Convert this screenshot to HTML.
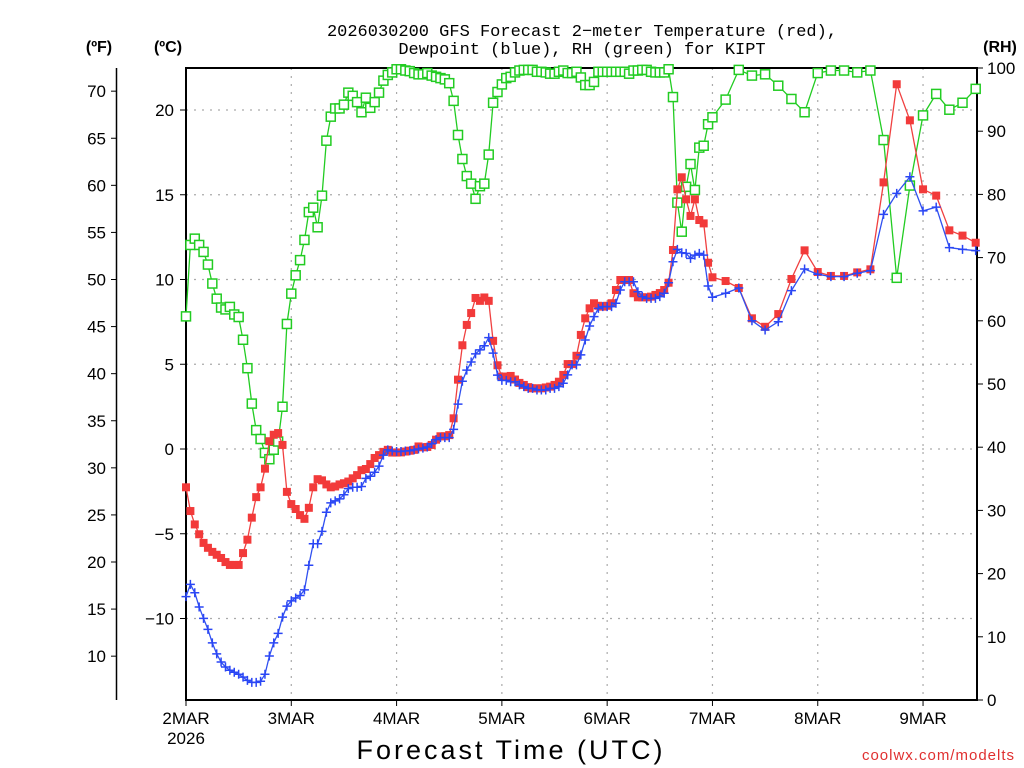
<!DOCTYPE html>
<html><head><meta charset="utf-8">
<style>
html,body{margin:0;padding:0;background:#fff;}
svg{display:block;font-family:"Liberation Sans","DejaVu Sans",sans-serif;}
</style></head>
<body>
<svg id="chart" width="1024" height="768" viewBox="0 0 1024 768" xmlns="http://www.w3.org/2000/svg">
<rect width="1024" height="768" fill="#fff"/>
<text x="582" y="36" font-size="17" font-family="Liberation Mono, monospace" text-anchor="middle">2026030200 GFS Forecast 2−meter Temperature (red),</text>
<text x="582" y="54" font-size="17" font-family="Liberation Mono, monospace" text-anchor="middle">Dewpoint (blue), RH (green) for KIPT</text>
<text x="99" y="52" font-size="16" font-weight="bold" text-anchor="middle">(ºF)</text>
<text x="168" y="52" font-size="16" font-weight="bold" text-anchor="middle">(ºC)</text>
<text x="1000" y="52" font-size="16" font-weight="bold" text-anchor="middle">(RH)</text>
<text x="511" y="759" font-size="27" text-anchor="middle" letter-spacing="3">Forecast Time (UTC)</text>
<text x="1015" y="760" font-size="15" fill="#e03030" text-anchor="end" letter-spacing="1">coolwx.com/modelts</text>
<g id="grid"></g><g id="axes"></g><g id="series"></g>
</svg>
<script>
// hours of forecast
const hours = [];
for (let h = 0; h <= 120; h++) hours.push(h);
for (let h = 123; h <= 180; h += 3) hours.push(h);
const tempC = [-2.26,-3.66,-4.45,-5.03,-5.54,-5.83,-6.07,-6.24,-6.43,-6.67,-6.84,-6.84,-6.84,-6.14,-5.35,-4.05,-2.84,-2.26,-1.16,0.46,0.84,0.94,0.24,-2.53,-3.25,-3.54,-3.9,-4.12,-3.47,-2.26,-1.78,-1.85,-2.09,-2.26,-2.21,-2.09,-2.02,-1.92,-1.73,-1.54,-1.25,-1.18,-0.89,-0.53,-0.36,-0.17,-0.05,-0.21,-0.21,-0.2,-0.15,-0.1,-0.05,0.15,0.1,0.12,0.24,0.55,0.75,0.75,0.82,1.81,4.09,6.12,7.32,8.02,8.91,8.74,8.94,8.74,6.38,4.94,4.27,4.27,
4.31,4.1,3.9,3.78,3.65,3.58,3.58,3.58,3.63,3.68,3.78,3.97,4.37,5.01,5.01,5.5,6.73,7.71,8.3,8.6,8.45,8.4,8.45,8.6,9.38,9.97,9.97,9.97,9.19,8.95,8.95,8.95,8.99,9.09,9.2,9.38,9.81,11.74,15.32,16.03,14.73,13.75,14.73,13.51,13.31,10.99,10.13,
9.91,9.5,7.71,7.21,7.96,10.03,11.72,10.44,10.21,10.21,10.42,10.6,15.73,21.52,19.39,15.32,14.95,12.9,12.59,12.17];
const dewC = [-8.71,-7.99,-8.48,-9.32,-9.99,-10.64,-11.44,-12.09,-12.57,-12.86,-13.05,-13.17,-13.29,-13.46,-13.65,-13.77,-13.77,-13.7,-13.29,-12.21,-11.44,-10.88,-9.92,-9.27,-8.96,-8.79,-8.64,-8.31,-6.86,-5.59,-5.59,-4.86,-3.73,-3.18,-3.06,-2.94,-2.7,-2.34,-2.26,-2.26,-2.21,-1.73,-1.61,-1.37,-1.01,-0.36,-0.05,-0.12,-0.15,-0.15,-0.12,-0.1,-0.05,0,0.05,0.12,0.31,0.55,0.67,0.67,0.67,1.16,2.65,4,4.65,5.13,5.61,5.85,6.09,6.57,5.66,4.36,4.05,4.05,
3.97,3.97,3.78,3.68,3.58,3.58,3.48,3.48,3.48,3.58,3.58,3.68,3.88,4.37,4.96,4.96,5.55,6.43,7.26,7.81,8.3,8.4,8.4,8.4,8.6,9.38,9.87,9.87,9.87,9.28,8.99,8.89,8.89,8.89,8.99,9.19,9.81,11.05,11.78,11.58,11.54,11.25,11.44,11.54,11.44,9.62,8.95,
9.19,9.5,7.57,7.02,7.51,9.34,10.62,10.31,10.17,10.17,10.37,10.52,13.84,15.08,16.06,14.05,14.27,11.88,11.78,11.7];
const rh = [60.7,72,73,72,70.9,68.9,65.9,63.5,62.1,61.8,62.2,61,60.6,57,52.5,46.9,42.7,41.3,39.1,38.1,39.6,40.9,46.4,59.5,64.3,67.2,69.6,72.8,77.2,77.9,74.8,79.8,88.5,92.3,93.6,93.6,94.2,96.1,95.6,94.6,93,95.3,93.7,94.6,96.1,98,98.9,99.3,99.8,99.8,99.6,99.5,99.2,99,99,99.2,98.8,98.6,98.4,98.2,97.6,94.8,89.4,85.6,82.9,81.7,79.3,81.3,81.7,86.3,94.5,96.2,97.4,98.4,
98.6,99.3,99.6,99.7,99.7,99.7,99.4,99.4,99.3,99.1,99.1,99.4,99.6,99.2,99.2,99.4,98.5,97.3,97.3,97.8,99.4,99.4,99.4,99.4,99.4,99.4,99.4,99.1,99.6,99.6,99.7,99.7,99.4,99.3,99.3,99.3,99.8,95.4,78.7,74.1,81.2,84.8,80.7,87.4,87.7,91.1,92.2,
95,99.7,98.8,99,97.2,95.1,93,99.2,99.6,99.6,99.3,99.6,88.6,66.8,81.4,92.5,95.9,93.4,94.5,96.7];
const dayLabels = ["2MAR","3MAR","4MAR","5MAR","6MAR","7MAR","8MAR","9MAR"];
const cTicks = [20,15,10,5,0,-5,-10];
const fTicks = [70,65,60,55,50,45,40,35,30,25,20,15,10];
const rhTicks = [0,10,20,30,40,50,60,70,80,90,100];

const L=186,R=977,T=68,B=700;
const xH = h => L + h*(R-L)/180.3;
const yC = c => 449 - 16.95*c;
const yF = f => yC((f-32)/1.8);
const yRH = r => B - (B-T)*r/100;
const NS="http://www.w3.org/2000/svg";
function mk(tag, attrs, parent){const e=document.createElementNS(NS,tag);for(const k in attrs)e.setAttribute(k,attrs[k]);parent.appendChild(e);return e;}
const grid=document.getElementById('grid'), axes=document.getElementById('axes'), series=document.getElementById('series');

cTicks.forEach(c=>{const g=mk('line',{x1:L,x2:R,y1:yC(c),y2:yC(c),stroke:'#aaa','stroke-dasharray':'2,6','stroke-width':1.2},grid);

});
dayLabels.forEach((d,i)=>{if(i===0)return;const g=mk('line',{x1:xH(i*24),x2:xH(i*24),y1:T,y2:B,stroke:'#aaa','stroke-dasharray':'2,6','stroke-width':1.2},grid);

});

const fr=mk('rect',{x:L,y:T,width:R-L,height:B-T,fill:'none',stroke:'#000','stroke-width':2},axes);


const fl=mk('line',{x1:116.5,x2:116.5,y1:T,y2:B,stroke:'#000','stroke-width':1.5},axes);



cTicks.forEach(c=>{const y=yC(c);
mk('line',{x1:L-6,x2:L,y1:y,y2:y,stroke:'#000'},axes);
const t=mk('text',{x:L-12,y:y+6,'font-size':17,'text-anchor':'end'},axes);t.textContent=(c<0?'−'+Math.abs(c):c);

});
fTicks.forEach(f=>{const y=yF(f);
mk('line',{x1:111,x2:117,y1:y,y2:y,stroke:'#000'},axes);
const t=mk('text',{x:106,y:y+6,'font-size':17,'text-anchor':'end'},axes);t.textContent=f;

});
rhTicks.forEach(r=>{const y=yRH(r);
mk('line',{x1:R,x2:R+6,y1:y,y2:y,stroke:'#000'},axes);
const t=mk('text',{x:R+10,y:y+6,'font-size':17,'text-anchor':'start'},axes);t.textContent=r;

});
dayLabels.forEach((d,i)=>{const x=xH(i*24);
mk('line',{x1:x,x2:x,y1:B,y2:B+6,stroke:'#000'},axes);
const t=mk('text',{x:x,y:724,'font-size':17,'text-anchor':'middle'},axes);t.textContent=d;

});
const yr=mk('text',{x:L,y:744,'font-size':17,'text-anchor':'middle'},axes);yr.textContent='2026';



function drawLine(vals, yf, color, name){
  const pts=vals.map((v,i)=>xH(hours[i]).toFixed(1)+','+yf(v).toFixed(1)).join(' ');
  const p=mk('polyline',{points:pts,fill:'none',stroke:color,'stroke-width':1.3},series);
  
  
}
drawLine(rh,yRH,'#22cc22','rh-line');
rh.forEach((v,i)=>{const x=xH(hours[i]),y=yRH(v);
const m=mk('rect',{x:x-4.5,y:y-4.5,width:9,height:9,fill:'#fff',stroke:'#22cc22','stroke-width':1.5},series);

});
drawLine(tempC,yC,'#f04040','temperature-line');
tempC.forEach((v,i)=>{const x=xH(hours[i]),y=yC(v);
const m=mk('rect',{x:x-4,y:y-4,width:8,height:8,fill:'#f23a3a'},series);

});
drawLine(dewC,yC,'#3050f0','dewpoint-line');
dewC.forEach((v,i)=>{const x=xH(hours[i]),y=yC(v);
const m=mk('path',{d:`M${x-4.5},${y}H${x+4.5}M${x},${y-4.5}V${y+4.5}`,stroke:'#2a46f5','stroke-width':1.5,fill:'none'},series);

});
</script>
</body></html>
